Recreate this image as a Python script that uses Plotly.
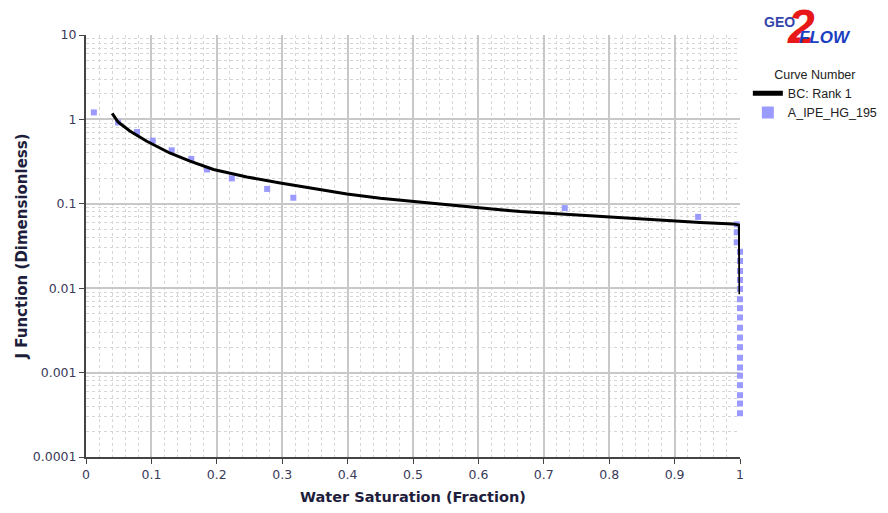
import plotly.graph_objects as go

# ---- data ----
line_sw = [0.040, 0.049, 0.067, 0.093, 0.128, 0.159, 0.195, 0.246, 0.297, 0.348,
           0.399, 0.450, 0.500, 0.550, 0.602, 0.633, 0.664, 0.700, 0.735, 0.800,
           0.837, 0.900, 0.939, 0.989, 0.999, 1.000]
line_j = [1.18, 0.93, 0.73, 0.55, 0.40, 0.32, 0.255, 0.208, 0.176, 0.152,
          0.131, 0.116, 0.106, 0.097, 0.089, 0.085, 0.081, 0.078, 0.0753, 0.070,
          0.0675, 0.062, 0.0599, 0.0578, 0.0560, 0.0085]

pts_sw = [0.012, 0.049, 0.078, 0.102, 0.131, 0.161, 0.185, 0.223, 0.277, 0.317,
          0.732, 0.936, 0.995, 0.995, 0.995,
          1.0, 1.0, 1.0, 1.0, 1.0, 1.0, 1.0, 1.0, 1.0, 1.0, 1.0, 1.0, 1.0, 1.0, 1.0, 1.0, 1.0, 1.0]
pts_j = [1.21, 0.92, 0.71, 0.56, 0.43, 0.34, 0.255, 0.20, 0.15, 0.118,
         0.089, 0.070, 0.057, 0.046, 0.035,
         0.027, 0.021, 0.016, 0.0125, 0.0098, 0.0074, 0.0058, 0.0045, 0.0034, 0.0026,
         0.0020, 0.0015, 0.00115, 0.00092, 0.00071, 0.00054, 0.00043, 0.00033]

x_ticks = [0, 0.1, 0.2, 0.3, 0.4, 0.5, 0.6, 0.7, 0.8, 0.9, 1]
x_ticklabels = ["0", "0.1", "0.2", "0.3", "0.4", "0.5", "0.6", "0.7", "0.8", "0.9", "1"]
y_ticks = [0.0001, 0.001, 0.01, 0.1, 1, 10]
y_ticklabels = ["0.0001", "0.001", "0.01", "0.1", "1", "10"]

series_line_name = "BC: Rank 1"
series_pts_name = "A_IPE_HG_195"

# minor log gridline positions (2..9 in each decade)
y_minor = [m * d for d in [0.0001, 0.001, 0.01, 0.1, 1] for m in range(2, 10)]

fig = go.Figure()
fig.add_trace(go.Scatter(
    x=pts_sw, y=pts_j, mode="markers", name=series_pts_name,
    marker=dict(symbol="square", size=6, color="#9a9aff", line=dict(width=0)),
    cliponaxis=False,
))
fig.add_trace(go.Scatter(
    x=line_sw, y=line_j, mode="lines", name=series_line_name,
    line=dict(color="black", width=3), cliponaxis=False,
))

FONT = "DejaVu Sans, Verdana, sans-serif"
LFONT = "Liberation Sans, Arial, sans-serif"
tick_font = dict(family=FONT, size=12.5, color="#3a3a5a")

fig.update_layout(
    width=888, height=513,
    margin=dict(l=86, r=148, t=35, b=56, autoexpand=False),
    paper_bgcolor="white", plot_bgcolor="white",
    showlegend=True,
    legend=dict(
        x=1.012, y=0.935, xanchor="left", yanchor="top",
        title=dict(text="Curve Number", side="top center",
                   font=dict(family=LFONT, size=12.5, color="#222")),
        font=dict(family=LFONT, size=12.5, color="#222"),
        traceorder="reversed", itemsizing="constant", tracegroupgap=0,
        itemwidth=30,
        bgcolor="rgba(0,0,0,0)",
    ),
    xaxis=dict(
        range=[0, 1], tickvals=x_ticks, ticktext=x_ticklabels,
        tickfont=tick_font, automargin=False,
        title=dict(text="<b>Water Saturation (Fraction)</b>",
                   font=dict(family=FONT, size=14.5, color="#1e1e3c"), standoff=11),
        showline=True, linecolor="#444", linewidth=2,
        ticks="outside", ticklen=5, tickcolor="#444",
        showgrid=True, gridcolor="#c8c8c8", gridwidth=1.5,
        zeroline=False,
        minor=dict(dtick=0.02, tick0=0, showgrid=True, gridcolor="#d6d6d6", griddash="dot", gridwidth=1),
    ),
    yaxis=dict(
        type="log", range=[-4, 1], tickvals=y_ticks, ticktext=y_ticklabels,
        tickfont=tick_font, automargin=False,
        title=dict(text="<b>J Function (Dimensionless)</b>",
                   font=dict(family=FONT, size=15, color="#1e1e3c"), standoff=2),
        showline=True, linecolor="#444", linewidth=2,
        ticks="outside", ticklen=5, tickcolor="#444",
        showgrid=True, gridcolor="#c8c8c8", gridwidth=1.5,
        zeroline=False,
        minor=dict(tickvals=y_minor, showgrid=True, gridcolor="#d6d6d6", griddash="dot", gridwidth=1),
    ),
)

# logo (paper coords: plot spans x 86..740 px, y 35..457 px)
fig.add_annotation(xref="paper", yref="paper", x=1.061, y=1.031, text="<b>GEO</b>",
                   xanchor="center", yanchor="middle",
                   showarrow=False, font=dict(family=LFONT, size=14, color="#3344aa"))
fig.add_annotation(xref="paper", yref="paper", x=1.094, y=1.019, text="<b><i>2</i></b>",
                   xanchor="center", yanchor="middle",
                   showarrow=False, font=dict(family=LFONT, size=48, color="#e81818"))
fig.add_annotation(xref="paper", yref="paper", x=1.13, y=0.994, text="<b><i>FLOW</i></b>",
                   xanchor="center", yanchor="middle",
                   showarrow=False, font=dict(family=LFONT, size=17, color="#1a3fbf"))

fig.write_html("out.html", post_script="document.body.style.margin='0';",
               config={"displayModeBar": False})
